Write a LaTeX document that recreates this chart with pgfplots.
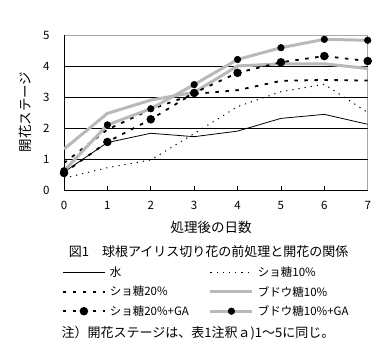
\documentclass[border=0pt]{standalone}
\usepackage{fontspec}
\setmainfont{Noto Sans CJK JP}
\usepackage{pgfplots}
\pgfplotsset{compat=1.18}
\begin{document}
\begin{tikzpicture}
\useasboundingbox (-64pt,-161pt) rectangle (323pt,190pt);
\begin{axis}[
  anchor=south west,
  scale only axis, width=303.7pt, height=155pt,
  xmin=0, xmax=7, ymin=0, ymax=5,
  xtick={0,...,7}, ytick={0,...,5},
  xtick pos=left, ytick pos=left,
  tick align=inside, major tick length=4pt,
  tick style={black, line width=0.6pt},
  axis line style={gray!70, line width=0.8pt},
  extra y ticks={1,2,3,4}, extra y tick labels={},
  extra y tick style={ymajorgrids=true, major grid style={black, line width=0.8pt}, major tick length=0pt},
  /pgf/number format/assume math mode=true,
  tick label style={font=\fontsize{11.5}{11.5}\selectfont},
  xticklabel style={yshift=-8pt},
  yticklabel style={xshift=-11pt},
  legend columns=2,
  legend cell align=left,
  legend style={at={(-0.0066,-0.484)}, anchor=north west, draw=none, fill=none,
    inner sep=0pt, outer sep=0pt, font=\fontsize{11.5}{12}\selectfont, row sep=4pt,
    /tikz/every odd column/.append style={column sep=2pt},
    /tikz/every even column/.append style={column sep=18pt}},
  legend image code/.code={\draw[mark repeat=2,mark phase=2,#1] plot coordinates {(0pt,0pt)(21pt,0pt)(42pt,0pt)};},
]
\draw[black, line width=0.8pt] (rel axis cs:0,1) -- (rel axis cs:0,0) -- (rel axis cs:1,0);
\addplot[black, line width=0.8pt] coordinates {(0,0.58)(1,1.53)(2,1.83)(3,1.72)(4,1.90)(5,2.31)(6,2.44)(7,2.12)};
\addlegendentry{水}
\addplot[black, line width=1pt, dash pattern=on 1.2pt off 5pt] coordinates {(0,0.38)(1,0.72)(2,0.97)(3,1.82)(4,2.69)(5,3.17)(6,3.41)(7,2.50)};
\addlegendentry{ショ糖10\%}
\addplot[black, line width=1.8pt, dash pattern=on 3.5pt off 6.5pt] coordinates {(0,0.87)(1,1.95)(2,2.60)(3,3.10)(4,3.22)(5,3.52)(6,3.55)(7,3.53)};
\addlegendentry{ショ糖20\%}
\addplot[gray!55, line width=3pt] coordinates {(0,1.32)(1,2.47)(2,2.90)(3,3.15)(4,4.00)(5,4.07)(6,4.07)(7,3.92)};
\addlegendentry{ブドウ糖10\%}
\addplot[black, line width=1.8pt, dash pattern=on 3.5pt off 6.5pt, mark=*, mark size=3.3pt, mark options={solid, fill=black}] coordinates {(0,0.55)(1,1.55)(2,2.28)(3,3.13)(4,3.78)(5,4.12)(6,4.32)(7,4.16)};
\addlegendentry{ショ糖20\%+GA}
\addplot[gray!55, line width=3pt, mark=*, mark size=3.3pt, mark options={black, solid, fill=black, line width=0.5pt}] coordinates {(0,0.62)(1,2.10)(2,2.62)(3,3.40)(4,4.21)(5,4.59)(6,4.86)(7,4.83)};
\addlegendentry{ブドウ糖10\%+GA}
\end{axis}
\node[rotate=90, font=\fontsize{13.5}{13.5}\selectfont] at (-39pt,78pt) {開花ステージ};
\node[font=\fontsize{13.5}{13.5}\selectfont] at (147pt,-37pt) {処理後の日数};
\node[font=\fontsize{13}{13}\selectfont] at (144.7pt,-62pt) {図1　球根アイリス切り花の前処理と開花の関係};
\node[font=\fontsize{13}{13}\selectfont] at (134pt,-143pt) {注）開花ステージは、表1注釈ａ)1～5に同じ。};
\end{tikzpicture}
\end{document}
